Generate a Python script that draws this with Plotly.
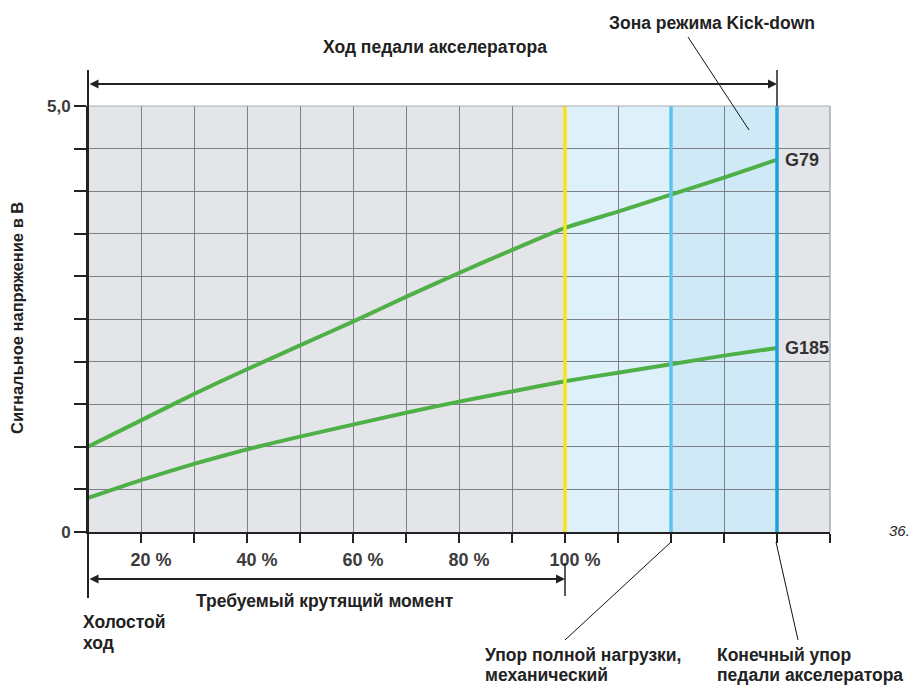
import plotly.graph_objects as go

# Accelerator pedal travel (grid units, 10 % per division) and sender voltages
pedal_travel = [10, 20, 30, 40, 50, 60, 70, 80, 90, 100, 110, 120, 130, 140]
g79_voltage = [1.00, 1.31, 1.62, 1.91, 2.19, 2.47, 2.76, 3.04, 3.31, 3.57, 3.76, 3.96, 4.16, 4.37]
g185_voltage = [0.40, 0.61, 0.80, 0.97, 1.12, 1.26, 1.40, 1.53, 1.65, 1.77, 1.87, 1.97, 2.07, 2.16]

x_tick_vals = [10, 20, 30, 40, 50, 60, 70, 80, 90, 100, 110, 120, 130, 140, 150]
x_tick_text = ["", "20 %", "", "40 %", "", "60 %", "", "80 %", "", "100 %", "", "", "", "", ""]
y_tick_vals = [0, 0.5, 1.0, 1.5, 2.0, 2.5, 3.0, 3.5, 4.0, 4.5, 5.0]
y_tick_text = ["0", "", "", "", "", "", "", "", "", "", "5,0"]

full_load_stop = 100
kickdown_start = 120
pedal_end_stop = 140

W, H = 909, 690
L, R, T, B = 88, 830, 106, 532

FONT = "Liberation Sans, Arial, sans-serif"
INK = "#222222"
GREEN = "#4fb048"
GRID = "#7c8187"
LABEL_SIZE = 17.5


def px(x):
    return (x - L) / (R - L)


def py(y):
    return (B - y) / (B - T)


fig = go.Figure()

for volts, name in [(g79_voltage, "G79"), (g185_voltage, "G185")]:
    fig.add_trace(go.Scatter(
        x=pedal_travel, y=volts, mode="lines", name=name,
        line=dict(color=GREEN, width=4, shape="spline", smoothing=0.5),
        hoverinfo="x+y+name",
    ))

shapes = []
# Kick-down zones
shapes.append(dict(type="rect", xref="x", yref="y", x0=full_load_stop, x1=kickdown_start, y0=0, y1=5,
                   fillcolor="#def0fa", line_width=0, layer="below"))
shapes.append(dict(type="rect", xref="x", yref="y", x0=kickdown_start, x1=pedal_end_stop, y0=0, y1=5,
                   fillcolor="#cfe9f6", line_width=0, layer="below"))
# stop markers
shapes.append(dict(type="line", xref="x", yref="y", x0=full_load_stop, x1=full_load_stop, y0=0, y1=5,
                   line=dict(color="#f4e61a", width=3.5)))
shapes.append(dict(type="line", xref="x", yref="y", x0=kickdown_start, x1=kickdown_start, y0=0, y1=5,
                   line=dict(color="#5cc3ee", width=3.5)))
shapes.append(dict(type="line", xref="x", yref="y", x0=pedal_end_stop, x1=pedal_end_stop, y0=0, y1=5,
                   line=dict(color="#1c9fdc", width=3.5)))
# top and right frame of the grid
shapes.append(dict(type="line", xref="paper", yref="paper", x0=0, x1=1, y0=1, y1=1,
                   line=dict(color="#a9adb2", width=1)))
shapes.append(dict(type="line", xref="paper", yref="paper", x0=1, x1=1, y0=0, y1=1,
                   line=dict(color="#a9adb2", width=1.5)))
# extended left axis line
shapes.append(dict(type="line", xref="paper", yref="paper", x0=0, x1=0, y0=py(70), y1=py(598),
                   line=dict(color=INK, width=2)))
# end ticks for the dimension arrows
shapes.append(dict(type="line", xref="paper", yref="paper", x0=px(777), x1=px(777), y0=py(70), y1=py(106),
                   line=dict(color=INK, width=1.5)))
shapes.append(dict(type="line", xref="paper", yref="paper", x0=px(565), x1=px(565), y0=py(563), y1=py(596),
                   line=dict(color=INK, width=1.5)))
# leader lines
for (x0, y0, x1, y1) in [(688, 37, 749, 130), (565, 640, 671, 542), (798, 640, 776, 542)]:
    shapes.append(dict(type="line", xref="paper", yref="paper", x0=px(x0), y0=py(y0), x1=px(x1), y1=py(y1),
                       line=dict(color="#111111", width=1)))

annotations = []
# dimension arrows
for (xa, xb, yy) in [(88, 777, 84), (88, 565, 579)]:
    annotations.append(dict(
        xref="paper", yref="paper", x=px(xb), y=py(yy), ax=-(xb - xa), ay=0,
        axref="pixel", ayref="pixel", text="", showarrow=True,
        arrowhead=2, startarrowhead=2, arrowside="end+start", arrowsize=0.9, arrowwidth=2,
        startarrowsize=0.9, arrowcolor=INK,
    ))


def label(text, x, y, xanchor="center", size=LABEL_SIZE, bold=True, italic=False):
    annotations.append(dict(
        xref="paper", yref="paper", x=px(x), y=py(y), text=text, showarrow=False,
        xanchor=xanchor, yanchor="middle",
        font=dict(family=FONT, size=size, color=INK, weight="bold" if bold else "normal",
                  style="italic" if italic else "normal"),
    ))


label("Ход педали акселератора", 435, 47)
label("Зона режима Kick-down", 712, 23)
label("Требуемый крутящий момент", 325, 601)
label("Холостой", 81, 622, xanchor="left")
label("ход", 81, 643, xanchor="left")
label("Упор полной нагрузки,", 483, 655, xanchor="left")
label("механический", 483, 675, xanchor="left")
label("Конечный упор", 715, 655, xanchor="left")
label("педали акселератора", 715, 675, xanchor="left")
label("36.", 887, 530, xanchor="left", size=15, bold=False, italic=True)

# curve names at the end of each line
for volts, name in [(g79_voltage, "G79"), (g185_voltage, "G185")]:
    annotations.append(dict(
        xref="x", yref="y", x=pedal_travel[-1], y=volts[-1], text=name, showarrow=False,
        xanchor="left", yanchor="middle", xshift=6,
        font=dict(family=FONT, size=18, color="#333333", weight="bold"),
    ))

# vertical axis title
annotations.append(dict(
    xref="paper", yref="paper", x=px(17), y=py(318), text="Сигнальное напряжение в В",
    textangle=-90, showarrow=False, xanchor="center", yanchor="middle",
    font=dict(family=FONT, size=16.5, color=INK, weight="bold"),
))

fig.update_layout(
    width=W, height=H,
    margin=dict(l=L, r=W - R, t=T, b=H - B, pad=0),
    paper_bgcolor="white", plot_bgcolor="#e3e5e8",
    showlegend=False,
    shapes=shapes, annotations=annotations,
    font=dict(family=FONT, color=INK),
    xaxis=dict(
        range=[10, 150], tickvals=x_tick_vals, ticktext=x_tick_text,
        showgrid=True, gridcolor=GRID, gridwidth=1.3,
        showline=True, linecolor=INK, linewidth=2,
        ticks="outside", ticklen=9, tickwidth=2, tickcolor=INK,
        tickfont=dict(family=FONT, size=18, color="#3c3c3c", weight="bold"),
        ticklabelshift=10, ticklabelstandoff=1,
        zeroline=False, fixedrange=True,
    ),
    yaxis=dict(
        range=[0, 5], tickvals=y_tick_vals, ticktext=y_tick_text,
        showgrid=True, gridcolor=GRID, gridwidth=1.3,
        showline=True, linecolor=INK, linewidth=2,
        ticks="outside", ticklen=12, tickwidth=2, tickcolor=INK,
        tickfont=dict(family=FONT, size=17, color="#3c3c3c", weight="bold"),
        zeroline=False, fixedrange=True,
    ),
)

fig.write_html("out.html")
